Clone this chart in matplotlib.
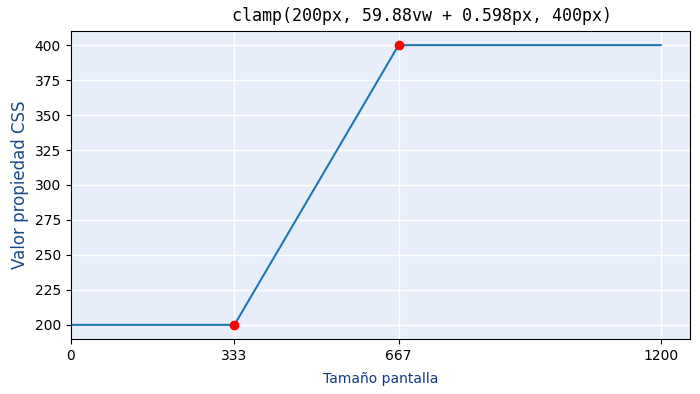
import matplotlib
matplotlib.use("Agg")
import matplotlib.pyplot as plt

# clamp(200px, 59.88vw + 0.598px, 400px)
screen = [0, 333, 667, 1200]
value = [200, 200, 400, 400]
bp_x = [333, 667]
bp_y = [200, 400]
xticks = [0, 333, 667, 1200]

fig = plt.figure(figsize=(7, 3.94), dpi=100)
ax = fig.add_axes([0.101, 0.140, 0.885, 0.781])
ax.set_facecolor("#e8eef9")
ax.grid(color="white", linewidth=1)
ax.set_axisbelow(True)

ax.plot(screen, value, color="#1f77b4", linewidth=1.5)
ax.plot(bp_x, bp_y, "o", color="red", markersize=6)

ax.set_xlim(0, 1260)
ax.set_ylim(190, 410)
ax.set_xticks(xticks)
ax.set_xticklabels([str(t) for t in xticks])

ax.set_xlabel("Tamaño pantalla", color="#0d3b82", fontsize=10, labelpad=7)
ax.set_ylabel("Valor propiedad CSS", color="#1a4a8a", fontsize=12)
ax.set_title("clamp(200px, 59.88vw + 0.598px, 400px)", family="DejaVu Sans Mono",
             fontsize=12, x=0.567, pad=7)

fig.savefig("out.png", dpi=100)
